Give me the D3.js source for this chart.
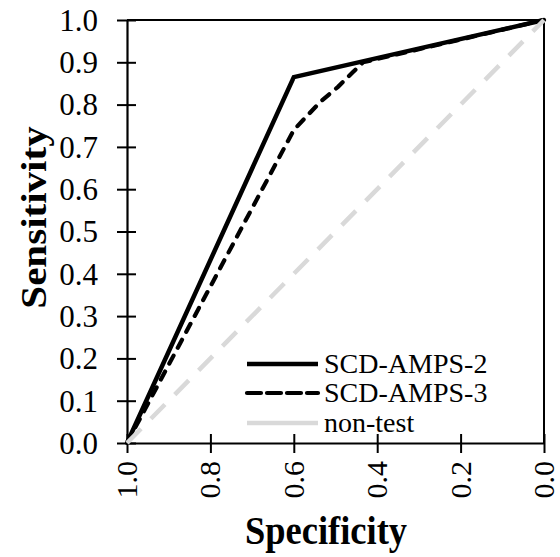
<!DOCTYPE html>
<html>
<head>
<meta charset="utf-8">
<script src="https://cdn.jsdelivr.net/npm/d3@7"></script>
</head>
<body style="margin:0">
<svg id="chart" width="560" height="557" font-family="Liberation Serif"></svg>
<script>
// ---- data ----
const specAMPS2 = [1.0, 0.6, 0.0];
const sensAMPS2 = [0.0, 0.865, 1.0];
const specAMPS3 = [1.0, 0.6, 0.537, 0.494, 0.458, 0.434, 0.0];
const sensAMPS3 = [0.0, 0.74, 0.806, 0.842, 0.877, 0.9, 1.0];
const specNonTest = [1.0, 0.0];
const sensNonTest = [0.0, 1.0];
const seriesNames = ["SCD-AMPS-2", "SCD-AMPS-3", "non-test"];
const xTicks = [1.0, 0.8, 0.6, 0.4, 0.2, 0.0];
const yTicks = [0.0, 0.1, 0.2, 0.3, 0.4, 0.5, 0.6, 0.7, 0.8, 0.9, 1.0];
const xTitle = "Specificity";
const yTitle = "Sensitivity";

// ---- layout ----
const FONT = "Liberation Serif";
const svg = d3.select("#chart");
const L = 127, R = 544, T = 20, B = 443;
const x = d3.scaleLinear().domain([1, 0]).range([L, R]);
const y = d3.scaleLinear().domain([0, 1]).range([B, T]);
const fmt = d3.format(".1f");

const styles = [
  { color: "#000", width: 4.5, dash: null, cap: "butt" },
  { color: "#000", width: 4.2, dash: "9,9", cap: "round" },
  { color: "#d9d9d9", width: 4.5, dash: "20,14", cap: "butt" }
];

const series = [
  specAMPS2.map((s, i) => [s, sensAMPS2[i]]),
  specAMPS3.map((s, i) => [s, sensAMPS3[i]]),
  specNonTest.map((s, i) => [s, sensNonTest[i]])
];

// frame (top and right)
svg.append("line").attr("x1", L).attr("x2", R).attr("y1", T).attr("y2", T)
  .attr("stroke", "#000").attr("stroke-width", 2);
svg.append("line").attr("x1", R).attr("x2", R).attr("y1", T).attr("y2", B)
  .attr("stroke", "#000").attr("stroke-width", 2);

// axes (lines via d3 axis, labels drawn as plain texts)
const yAxis = d3.axisLeft(y).tickValues(yTicks).tickFormat("")
  .tickSizeInner(10).tickSizeOuter(0);
const gy = svg.append("g").attr("transform", `translate(${L},0)`).call(yAxis);
gy.select(".domain").attr("stroke-width", 2.2);
gy.selectAll(".tick line").attr("stroke-width", 2).attr("x2", 9).attr("x1", -10);
gy.selectAll(".tick text").remove();

const xAxis = d3.axisBottom(x).tickValues(xTicks).tickFormat("")
  .tickSizeInner(10).tickSizeOuter(0);
const gx = svg.append("g").attr("transform", `translate(0,${B})`).call(xAxis);
gx.select(".domain").attr("stroke-width", 2.2);
gx.selectAll(".tick line").attr("stroke-width", 2).attr("y1", -9).attr("y2", 10);
gx.selectAll(".tick text").remove();

svg.selectAll("text.ylab").data(yTicks).enter().append("text")
  .attr("class", "ylab")
  .attr("x", L - 29).attr("y", d => y(d)).attr("dy", "0.35em")
  .attr("text-anchor", "end")
  .attr("font-family", FONT).attr("font-size", 31)
  .text(d => fmt(d));

svg.selectAll("text.xlab").data(xTicks).enter().append("text")
  .attr("class", "xlab")
  .attr("transform", d => `translate(${x(d)},${B + 18}) rotate(-90)`)
  .attr("dy", "0.33em")
  .attr("text-anchor", "end")
  .attr("font-family", FONT).attr("font-size", 30)
  .text(d => fmt(d));

// lines
const line = d3.line().x(d => x(d[0])).y(d => y(d[1]));
series.forEach((pts, i) => {
  const st = styles[i];
  svg.append("path").datum(pts)
    .attr("d", line)
    .attr("fill", "none")
    .attr("stroke", st.color)
    .attr("stroke-width", st.width)
    .attr("stroke-linejoin", "miter")
    .attr("stroke-linecap", st.cap)
    .attr("stroke-dasharray", st.dash);
});

// legend
const legY = [364, 393, 423];
seriesNames.forEach((name, i) => {
  const st = styles[i];
  svg.append("line").attr("x1", 247).attr("x2", 318).attr("y1", legY[i]).attr("y2", legY[i])
    .attr("stroke", st.color).attr("stroke-width", st.width)
    .attr("stroke-linecap", st.cap)
    .attr("stroke-dasharray", i === 1 ? "14,6" : null);
  svg.append("text").attr("x", 324).attr("y", legY[i]).attr("dy", "0.33em")
    .attr("font-family", FONT).attr("font-size", 28).text(name);
});

// titles
svg.append("text").attr("transform", `translate(${(245 + 407) / 2},544) scale(1,1.09)`)
  .attr("text-anchor", "middle")
  .attr("font-family", FONT).attr("font-size", 36.5).attr("font-weight", "bold")
  .text(xTitle);
svg.append("text").attr("transform", `translate(46,${(125 + 310) / 2}) rotate(-90) scale(1.14,1)`)
  .attr("text-anchor", "middle")
  .attr("font-family", FONT).attr("font-size", 36).attr("font-weight", "bold")
  .text(yTitle);
</script>
</body>
</html>
